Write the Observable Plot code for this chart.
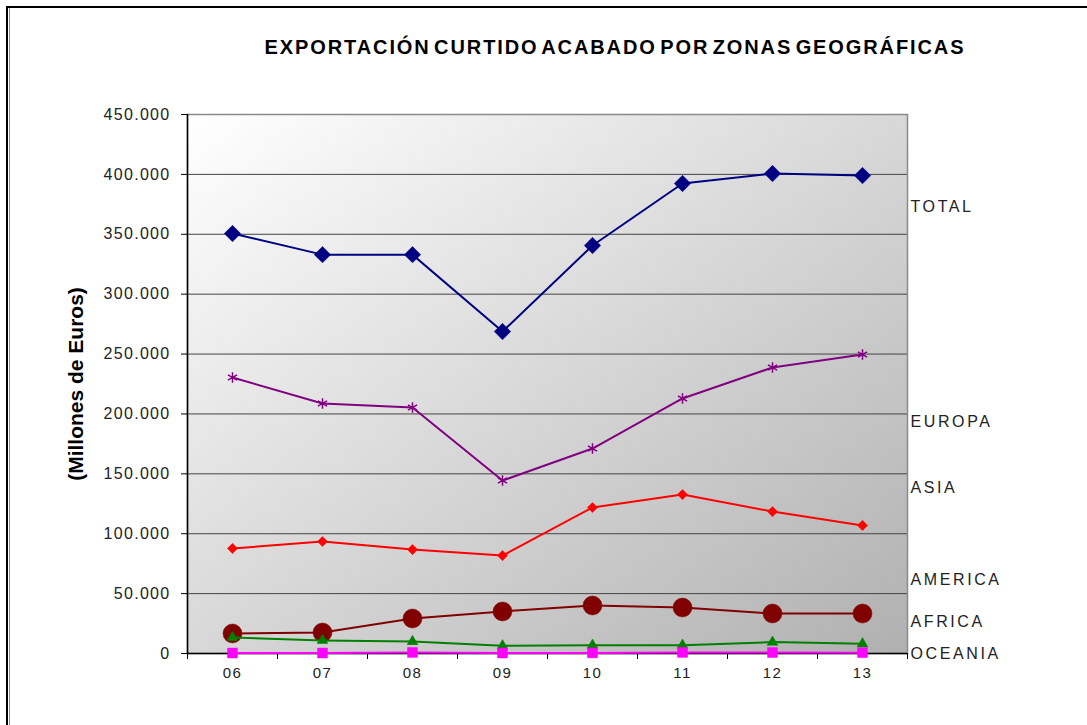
<!DOCTYPE html>
<html>
<head>
<meta charset="utf-8">
<script src="https://cdn.jsdelivr.net/npm/d3@7"></script>
<script src="https://cdn.jsdelivr.net/npm/@observablehq/plot@0.6"></script>
<style>
  html, body { margin: 0; padding: 0; background: #fff; }
  #wrap { position: relative; width: 1087px; height: 725px; overflow: hidden; font-family: "Liberation Sans", Arial, sans-serif; }
  #bTop { position: absolute; left: 6px; top: 6px; width: 1081px; height: 2px; background: #000; }
  #bLeft { position: absolute; left: 6px; top: 6px; width: 2px; height: 719px; background: #000; }
  #bLeft2 { position: absolute; left: 9px; top: 8px; width: 1px; height: 717px; background: #888; }
  #title { position: absolute; left: 0; width: 1230px; top: 36px; text-align: center; font-weight: bold; font-size: 20px; letter-spacing: 1.9px; word-spacing: -4px; color: #000; white-space: nowrap; }
  #chart { position: absolute; left: 0; top: 0; }
  .ytk text { letter-spacing: 1.3px; }
  .xtk text { letter-spacing: 1.5px; }
  .slab text { letter-spacing: 2.6px; }
</style>
</head>
<body>
<div id="wrap">
  <div id="bTop"></div><div id="bLeft"></div><div id="bLeft2"></div>
  <div id="title">EXPORTACIÓN CURTIDO ACABADO POR ZONAS GEOGRÁFICAS</div>
  <div id="chart"></div>
</div>
<script>
const years = [6, 7, 8, 9, 10, 11, 12, 13];
const yearLabels = ["06", "07", "08", "09", "10", "11", "12", "13"];
const total   = [350600, 333000, 333000, 268800, 340600, 392400, 400700, 399000];
const europa  = [230400, 208700, 205400, 144400, 171100, 212900, 238800, 249600];
const asia    = [87700, 93500, 86800, 81800, 121900, 132700, 118500, 106900];
const africa  = [16700, 17500, 29200, 35100, 40100, 38400, 33400, 33400];
const america = [13400, 10900, 10000, 6400, 6900, 6900, 9500, 8100];
const oceania = [400, 400, 900, 400, 500, 900, 800, 700];
const yTicks = [0, 50000, 100000, 150000, 200000, 250000, 300000, 350000, 400000, 450000];
const seriesNames = ["TOTAL", "EUROPA", "ASIA", "AMERICA", "AFRICA", "OCEANIA"];
const seriesLabelY = [373000, 193000, 138500, 61800, 26700, 0];

const fmt = d3.formatLocale({decimal: ",", thousands: ".", grouping: [3], currency: ["", "€"]}).format(",d");
const rows = (vals) => years.map((yr, i) => ({x: yr, y: vals[i]}));

const series = [
  {vals: total,   color: "#000080", symbol: "diamond2", r: 7.4, fill: true},
  {vals: europa,  color: "#800080", symbol: "asterisk", r: 5,   fill: false},
  {vals: asia,    color: "#ff0000", symbol: "diamond2", r: 4.6, fill: true},
  {vals: africa,  color: "#800000", symbol: "circle",   r: 9.5, fill: true},
  {vals: america, color: "#008000", symbol: "triangle", r: 4,   fill: true},
  {vals: oceania, color: "#ff00ff", symbol: "square",   r: 5.6, fill: true}
];

const marks = [
  Plot.frame({fill: "url(#bgGrad)", stroke: "none"}),
  Plot.gridY(yTicks, {stroke: "#444", strokeOpacity: 1}),
  Plot.frame({stroke: "#8a8a8a", strokeWidth: 1.5}),
  Plot.axisY(yTicks, {tickSize: 6, tickPadding: 11, tickFormat: fmt, fontSize: 16, fill: "#222", label: null, className: "ytk"}),
  Plot.axisX(d3.range(5.5, 13.6, 1), {tickSize: 6, tickFormat: () => "", label: null, stroke: "#000"}),
  Plot.axisX(years, {tickSize: 0, tickPadding: 14, tickFormat: (d) => yearLabels[years.indexOf(d)], fontSize: 15, fill: "#222", label: null, className: "xtk"}),
  Plot.ruleX([5.5], {y1: 0, y2: 450000, stroke: "#000", strokeWidth: 1.5}),
  Plot.ruleY([0], {stroke: "#000", strokeWidth: 1.5}),
];

for (const s of series) {
  const d = rows(s.vals);
  marks.push(Plot.line(d, {x: "x", y: "y", stroke: s.color, strokeWidth: 2}));
  marks.push(Plot.dot(d, {x: "x", y: "y", symbol: () => s.symbol, r: s.r,
    fill: s.fill ? s.color : "none", stroke: s.color, strokeWidth: s.fill ? 0.5 : 1.5}));
}

marks.push(Plot.text(seriesNames, {x: () => 13.5, y: (d, i) => seriesLabelY[i], text: (d) => d, dx: 3, textAnchor: "start", fontSize: 16, fill: "#222", className: "slab"}));
marks.push(Plot.text(["(Millones de Euros)"], {frameAnchor: "left", dx: -111, dy: 0, rotate: -90, textAnchor: "middle", fontSize: 21, fontWeight: "bold", fill: "#000"}));

const svg = Plot.plot({
  width: 1087,
  height: 725,
  marginLeft: 187,
  marginRight: 180,
  marginTop: 114,
  marginBottom: 72,
  style: {fontFamily: "'Liberation Sans', Arial, sans-serif", background: "transparent", overflow: "visible"},
  x: {type: "linear", domain: [5.5, 13.5]},
  y: {domain: [0, 450000]},
  symbol: {type: "identity"},
  marks
});

d3.select(svg).insert("defs", ":first-child").html(`
  <linearGradient id="bgGrad" x1="0" y1="0" x2="1" y2="1">
    <stop offset="0" stop-color="#ffffff"/>
    <stop offset="1" stop-color="#b0b0b0"/>
  </linearGradient>`);

document.getElementById("chart").appendChild(svg);
</script>
</body>
</html>
